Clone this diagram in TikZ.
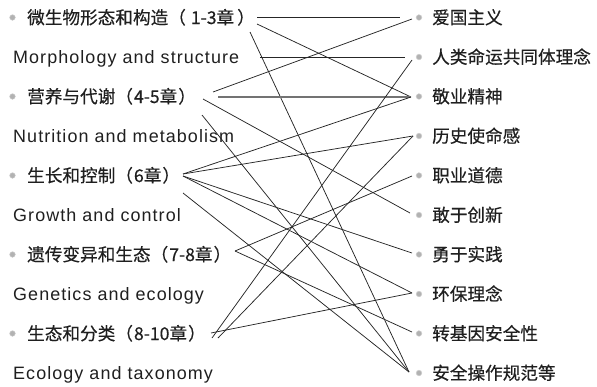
\documentclass[tikz,border=0pt]{standalone}
\usepackage{fontspec}
\setmainfont{Liberation Sans}
\newfontfamily\cjkfont[FakeBold=0.4]{Noto Sans CJK SC}
\newfontfamily\enfont[LetterSpace=6]{Liberation Sans}
\begin{document}
\begin{tikzpicture}[x=1bp,y=-1bp,
  cn/.style={anchor=base west, inner sep=0pt, text=black!88, font=\cjkfont\fontsize{17.7}{20}\selectfont},
  en/.style={anchor=base west, inner sep=0pt, text=black!88, font=\enfont\fontsize{18}{20}\selectfont},
  bul/.style={circle, inner sep=0pt, minimum size=5.6bp, fill=gray!60, draw=gray!40, line width=0.6bp, dash pattern=on 0.9bp off 0.5bp},
  link/.style={draw=black!85, line width=0.75bp},
  hlink/.style={draw=black!55, line width=1.5bp}]
\useasboundingbox (0,0) rectangle (597,386);

% left column
\node[bul] (bl1) at (12.5,17.5) {};
\node[cn] (l1) at (27,24) {微生物形态和构造（\hspace{5bp}1-3章\hspace{3bp}）};
\node[en] (e1) at (13,63.5) {Morphology and structure};
\node[bul] (bl2) at (12.5,96.5) {};
\node[cn] (l2) at (27,103) {营养与代谢（\hspace{1bp}4-5章\hspace{1bp}）};
\node[en] (e2) at (13,142.5) {Nutrition and metabolism};
\node[bul] (bl3) at (12.5,175.5) {};
\node[cn] (l3) at (27,182) {生长和控制（\hspace{1bp}6章\hspace{1bp}）};
\node[en] (e3) at (13,221.5) {Growth and control};
\node[bul] (bl4) at (12.5,254.5) {};
\node[cn] (l4) at (27,261) {遗传变异和生态（\hspace{1bp}7-8章\hspace{1bp}）};
\node[en] (e4) at (13,300.5) {Genetics and ecology};
\node[bul] (bl5) at (12.5,333.5) {};
\node[cn] (l5) at (27,340) {生态和分类（\hspace{1bp}8-10章\hspace{1bp}）};
\node[en] (e5) at (13,379.5) {Ecology and taxonomy};

% right column
\foreach \i/\t in {1/爱国主义,2/人类命运共同体理念,3/敬业精神,4/历史使命感,5/职业道德,
                   6/敢于创新,7/勇于实践,8/环保理念,9/转基因安全性,10/安全操作规范等}{
  \node[bul] (br\i) at (419,{17.5+39.5*(\i-1)}) {};
  \node[cn] (r\i) at (432,{24+39.5*(\i-1)}) {\t};
}

% connector end points
\coordinate (a1h) at (257,17);
\coordinate (a1d) at (257,24);
\coordinate (a1s) at (250,32);
\coordinate (m1) at (260,57);
\coordinate (a2u) at (213,92);
\coordinate (a2h) at (218,97);
\coordinate (a2d) at (203,99);
\coordinate (a2s) at (202,115);
\coordinate (a3) at (183,174);
\coordinate (a3d) at (183,176);
\coordinate (a3s) at (183,193);
\coordinate (a4) at (235,251);
\coordinate (a5a) at (212,338);
\coordinate (a5b) at (218,338);
\coordinate (a5c) at (211,333);

\coordinate (z1h) at (400,17);
\coordinate (z1) at (412,19);
\coordinate (z2h) at (405,57);
\coordinate (z2) at (412,60);
\coordinate (z3) at (411,97);
\coordinate (z4) at (413,136);
\coordinate (z5) at (412,176);
\coordinate (z6) at (410,213);
\coordinate (z7) at (412,253);
\coordinate (z8) at (412,293);
\coordinate (z9) at (412,332);
\coordinate (z10) at (409,372);

\draw[link] (a1h) -- (z1h);
\draw[link] (a1d) -- (z3);
\draw[link] (a1s) -- (z10);
\draw[link] (m1) -- (z2h);
\draw[link] (a2u) -- (z1);
\draw[hlink] (a2h) -- (z3);
\draw[link] (a2d) -- (z6);
\draw[link] (a2s) -- (z10);
\draw[link] (a3) -- (z3);
\draw[link] (a3) -- (z4);
\draw[link] (a3d) -- (z7);
\draw[link] (a3d) -- (z8);
\draw[link] (a3s) -- (z10);
\draw[link] (a4) -- (z5);
\draw[link] (a4) -- (z9);
\draw[link] (a5a) -- (z2);
\draw[link] (a5b) -- (z4);
\draw[link] (a5c) -- (z8);
\end{tikzpicture}
\end{document}
